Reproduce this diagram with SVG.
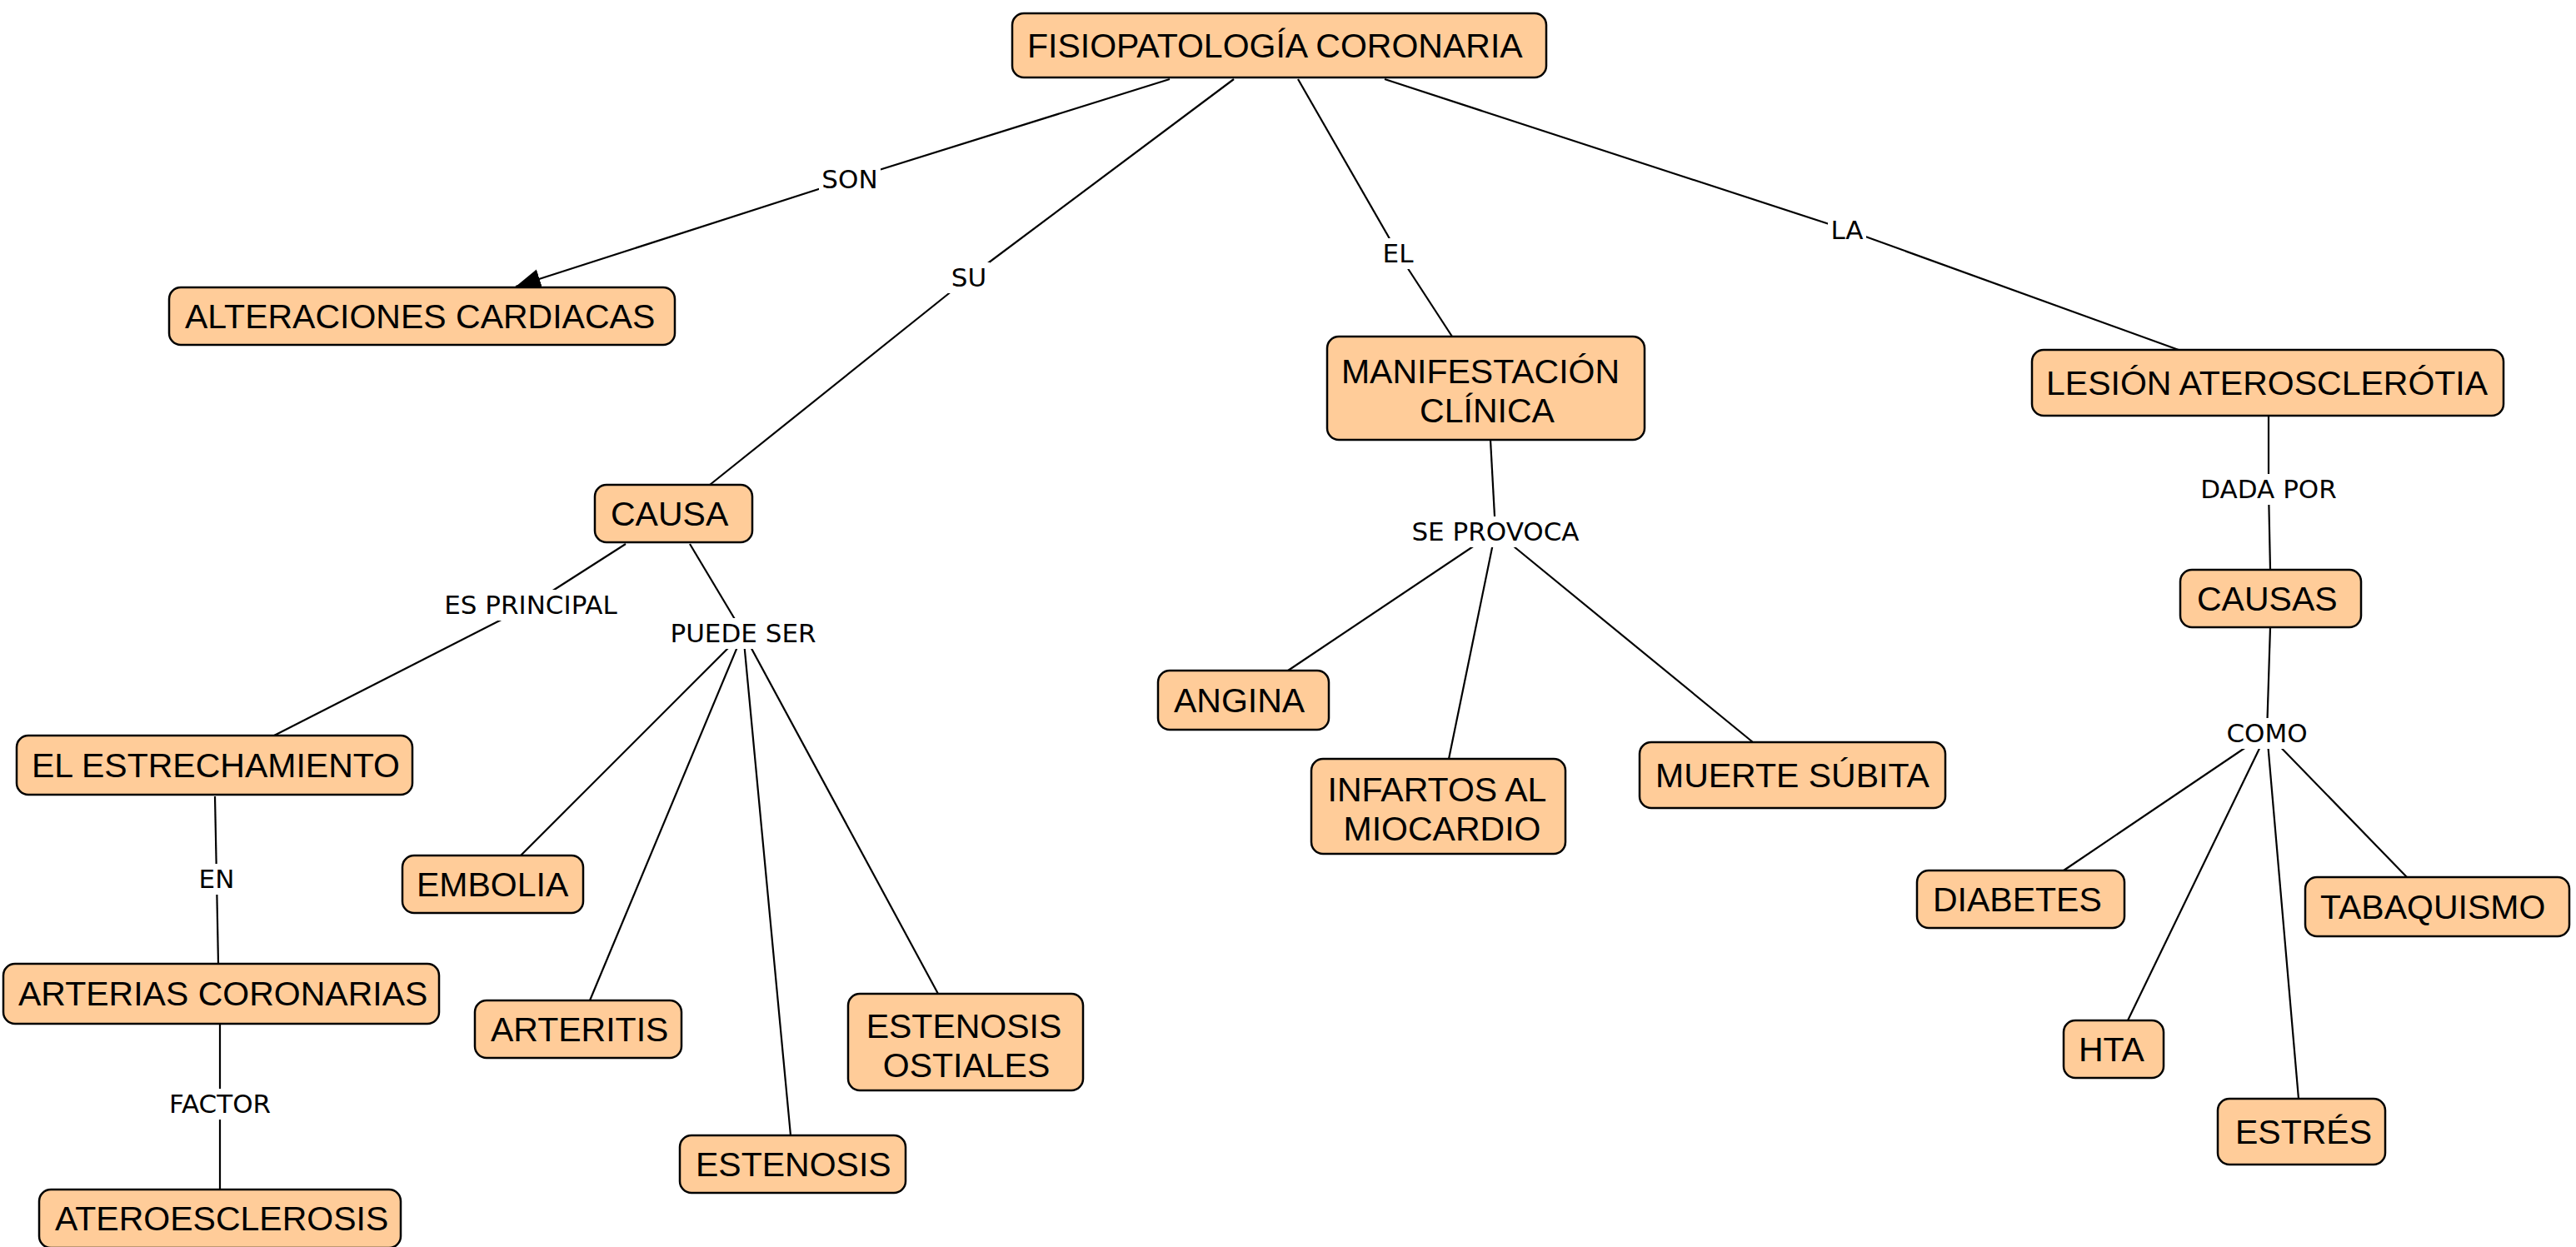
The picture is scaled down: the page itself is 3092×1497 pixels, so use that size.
<svg xmlns="http://www.w3.org/2000/svg" width="3092" height="1497" viewBox="0 0 3092 1497">
<defs>
<style>
.n rect{fill:#FFCC99;stroke:#000;stroke-width:2.5}
.n text{font-family:"Liberation Sans",Arial,sans-serif;font-size:41px;fill:#000}
.c line{stroke:#000;stroke-width:2.2}
.l rect{fill:#fff}
.l text{font-family:"DejaVu Sans",Verdana,sans-serif;font-size:31px;fill:#000;text-anchor:middle}
</style>
<marker id="arr" viewBox="0 0 30 24" refX="30" refY="12" markerWidth="30" markerHeight="24" markerUnits="userSpaceOnUse" orient="auto">
<path d="M0,0 L30,12 L0,24 Z" fill="#000"/>
</marker>
</defs>
<rect width="3092" height="1497" fill="#fff"/>
<g id="connectors" class="c">
<line x1="1404" y1="95" x2="1020" y2="215"/>
<line x1="1020" y1="215" x2="619" y2="344" marker-end="url(#arr)"/>
<line x1="1481" y1="95" x2="1163" y2="333"/>
<line x1="1163" y1="333" x2="852" y2="582"/>
<line x1="1558" y1="95" x2="1678" y2="304"/>
<line x1="1678" y1="304" x2="1743" y2="404"/>
<line x1="1662" y1="95" x2="2217" y2="276"/>
<line x1="2217" y1="276" x2="2615" y2="420"/>
<line x1="751" y1="653" x2="637" y2="726"/>
<line x1="637" y1="726" x2="329" y2="883"/>
<line x1="828" y1="653" x2="892" y2="760"/>
<line x1="892" y1="760" x2="625" y2="1027"/>
<line x1="892" y1="760" x2="708" y2="1201"/>
<line x1="892" y1="760" x2="949" y2="1363"/>
<line x1="892" y1="760" x2="1126" y2="1193"/>
<line x1="258" y1="956" x2="260" y2="1055"/>
<line x1="260" y1="1055" x2="262" y2="1157"/>
<line x1="264" y1="1229" x2="264" y2="1325"/>
<line x1="264" y1="1325" x2="264" y2="1428"/>
<line x1="1789" y1="528" x2="1795" y2="638"/>
<line x1="1795" y1="638" x2="1546" y2="805"/>
<line x1="1795" y1="638" x2="1739" y2="911"/>
<line x1="1795" y1="638" x2="2104" y2="891"/>
<line x1="2723" y1="499" x2="2723" y2="587"/>
<line x1="2723" y1="587" x2="2725" y2="684"/>
<line x1="2725" y1="753" x2="2721" y2="880"/>
<line x1="2721" y1="880" x2="2477" y2="1045"/>
<line x1="2721" y1="880" x2="2554" y2="1225"/>
<line x1="2721" y1="880" x2="2759" y2="1319"/>
<line x1="2721" y1="880" x2="2889" y2="1053"/>
</g>
<g id="labels" class="l">
<g id="lbl-son"><rect x="983" y="197" width="74" height="37"/><text x="1020" y="226">SON</text></g>
<g id="lbl-su"><rect x="1138" y="315" width="50" height="37"/><text x="1163" y="344">SU</text></g>
<g id="lbl-el"><rect x="1656" y="286" width="44" height="37"/><text x="1678" y="315">EL</text></g>
<g id="lbl-la"><rect x="2194" y="258" width="46" height="37"/><text x="2217" y="287">LA</text></g>
<g id="lbl-esprincipal"><rect x="524" y="708" width="226" height="37"/><text x="637" y="737">ES PRINCIPAL</text></g>
<g id="lbl-puedeser"><rect x="799" y="742" width="186" height="37"/><text x="892" y="771">PUEDE SER</text></g>
<g id="lbl-en"><rect x="237" y="1037" width="46" height="37"/><text x="260" y="1066">EN</text></g>
<g id="lbl-factor"><rect x="200" y="1307" width="128" height="37"/><text x="264" y="1336">FACTOR</text></g>
<g id="lbl-seprovoca"><rect x="1688" y="620" width="214" height="37"/><text x="1795" y="649">SE PROVOCA</text></g>
<g id="lbl-dadapor"><rect x="2637" y="569" width="172" height="37"/><text x="2723" y="598">DADA POR</text></g>
<g id="lbl-como"><rect x="2664" y="862" width="114" height="37"/><text x="2721" y="891">COMO</text></g>
</g>
<g id="node-fisiopatologia" class="n"><rect x="1215" y="16" width="641" height="77" rx="14"/><text x="1233" y="69">FISIOPATOLOGÍA CORONARIA</text></g>
<g id="node-alteraciones" class="n"><rect x="203" y="345" width="607" height="69" rx="14"/><text x="222" y="394">ALTERACIONES CARDIACAS</text></g>
<g id="node-causa" class="n"><rect x="714" y="582" width="189" height="69" rx="14"/><text x="733" y="631">CAUSA</text></g>
<g id="node-manifestacion" class="n"><rect x="1593" y="404" width="381" height="124" rx="14"/><text x="1777" y="460" text-anchor="middle">MANIFESTACIÓN</text><text x="1785" y="507" text-anchor="middle">CLÍNICA</text></g>
<g id="node-lesion" class="n"><rect x="2439" y="420" width="566" height="79" rx="14"/><text x="2456" y="474">LESIÓN ATEROSCLERÓTIA</text></g>
<g id="node-estrechamiento" class="n"><rect x="20" y="883" width="475" height="71" rx="14"/><text x="38" y="933">EL ESTRECHAMIENTO</text></g>
<g id="node-arterias" class="n"><rect x="4" y="1157" width="523" height="72" rx="14"/><text x="22" y="1207">ARTERIAS CORONARIAS</text></g>
<g id="node-ateroesclerosis" class="n"><rect x="47" y="1428" width="434" height="70" rx="14"/><text x="66" y="1477">ATEROESCLEROSIS</text></g>
<g id="node-embolia" class="n"><rect x="483" y="1027" width="217" height="69" rx="14"/><text x="500" y="1076">EMBOLIA</text></g>
<g id="node-arteritis" class="n"><rect x="570" y="1201" width="248" height="69" rx="14"/><text x="589" y="1250">ARTERITIS</text></g>
<g id="node-estenosis" class="n"><rect x="816" y="1363" width="271" height="69" rx="14"/><text x="835" y="1412">ESTENOSIS</text></g>
<g id="node-ostiales" class="n"><rect x="1018" y="1193" width="282" height="116" rx="14"/><text x="1157" y="1246" text-anchor="middle">ESTENOSIS</text><text x="1160" y="1293" text-anchor="middle">OSTIALES</text></g>
<g id="node-angina" class="n"><rect x="1390" y="805" width="205" height="71" rx="14"/><text x="1409" y="855">ANGINA</text></g>
<g id="node-infartos" class="n"><rect x="1574" y="911" width="305" height="114" rx="14"/><text x="1725" y="962" text-anchor="middle">INFARTOS AL</text><text x="1731" y="1009" text-anchor="middle">MIOCARDIO</text></g>
<g id="node-muerte" class="n"><rect x="1968" y="891" width="367" height="79" rx="14"/><text x="1987" y="945">MUERTE SÚBITA</text></g>
<g id="node-causas" class="n"><rect x="2617" y="684" width="217" height="69" rx="14"/><text x="2637" y="733">CAUSAS</text></g>
<g id="node-diabetes" class="n"><rect x="2301" y="1045" width="249" height="69" rx="14"/><text x="2320" y="1094">DIABETES</text></g>
<g id="node-tabaquismo" class="n"><rect x="2767" y="1053" width="317" height="71" rx="14"/><text x="2785" y="1103">TABAQUISMO</text></g>
<g id="node-hta" class="n"><rect x="2477" y="1225" width="120" height="69" rx="14"/><text x="2495" y="1274">HTA</text></g>
<g id="node-estres" class="n"><rect x="2662" y="1319" width="201" height="79" rx="14"/><text x="2683" y="1373">ESTRÉS</text></g>
</svg>
